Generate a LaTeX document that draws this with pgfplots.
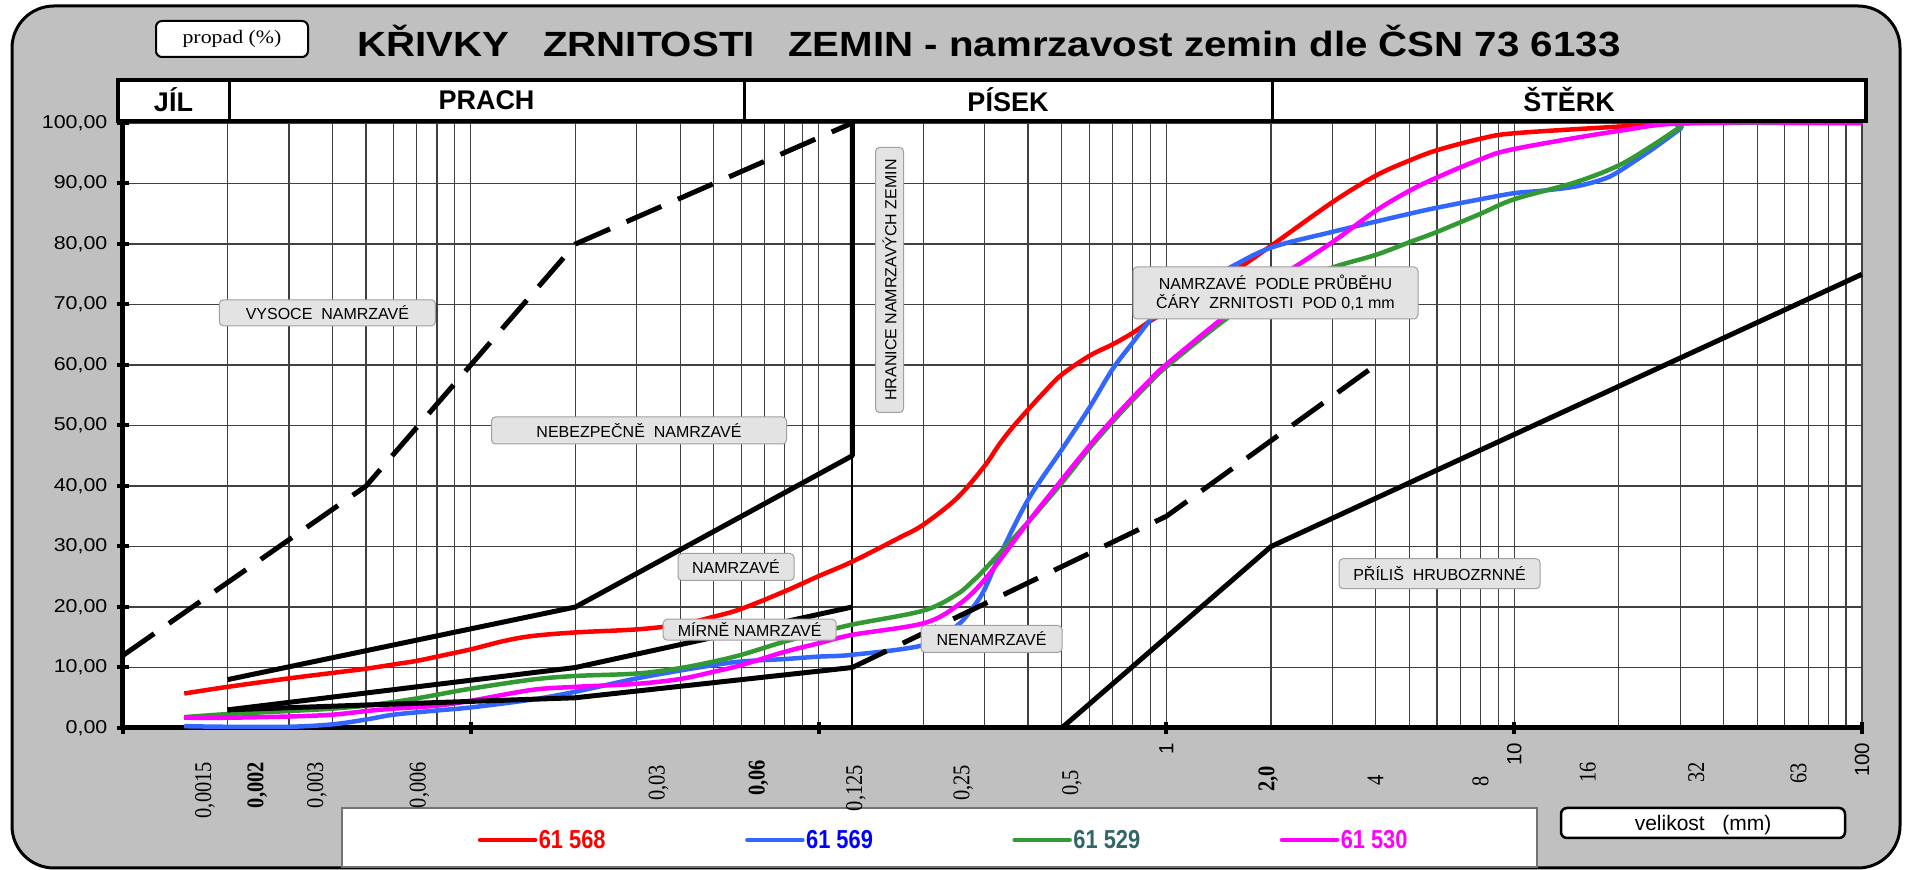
\documentclass[border=0pt]{standalone}
\usepackage{pgfplots}
\pgfplotsset{compat=1.18}
\usepackage{fontspec}
\setmainfont{Liberation Sans}
\newfontfamily\wsans[FakeStretch=1.15]{Liberation Sans}
\newfontfamily\csans[FakeStretch=0.84]{Liberation Sans}
\newfontfamily\cserif[FakeStretch=0.85]{Liberation Serif}
\newfontfamily\wserif[FakeStretch=1.15]{Liberation Serif}
\definecolor{bggray}{HTML}{C0C0C0}
\definecolor{boxgray}{HTML}{E3E3E3}
\definecolor{boxedge}{HTML}{A0A0A0}
\definecolor{cred}{HTML}{FF0000}
\definecolor{cblue}{HTML}{3366FF}
\definecolor{cgreen}{HTML}{339933}
\definecolor{cmag}{HTML}{FF00FF}
\definecolor{tblue}{HTML}{0000FF}
\definecolor{tteal}{HTML}{336666}
\begin{document}
\begin{tikzpicture}[x=1pt,y=1pt,
  lbl/.style={draw=boxedge, fill=boxgray, rounded corners=4pt, line width=1pt, inner sep=0pt, align=center, font=\fontsize{16}{19}\selectfont},
  xl/.style={rotate=90, anchor=east, inner sep=0pt, font=\cserif\fontsize{24}{24}\selectfont}]
\useasboundingbox (0,0) rectangle (1912,870);
\draw[line width=3pt, fill=bggray, rounded corners=42pt] (12,2) rectangle (1900,864);
% legend frame
\draw[line width=1.5pt, draw=black!55, fill=white] (342,3) rectangle (1537,62);
% size box
\draw[line width=2.5pt, fill=white, rounded corners=6pt] (1561,32) rectangle (1845,62);
\node[font=\fontsize{21}{21}\selectfont] at (1703,45) {velikost\ \ \ (mm)};
% propad box
\draw[line width=2pt, fill=white, rounded corners=6pt] (156,813) rectangle (308,849);
\node[font=\wserif\fontsize{19}{19}\selectfont] at (232,831) {propad (\%)};
% title
\node[anchor=base, font=\wsans\bfseries\fontsize{35}{35}\selectfont] at (989,813) {KŘIVKY\ \ \ ZRNITOSTI\ \ \ ZEMIN - namrzavost zemin dle ČSN 73 6133};

\begin{axis}[
  at={(123pt,142pt)}, anchor=south west,
  scale only axis, width=1739pt, height=605pt,
  xmode=log, xmin=0.001, xmax=100, ymin=0, ymax=100,
  clip=false,
  axis x line*=bottom, axis y line*=left,
  axis line style={line width=5pt, black},
  axis background/.style={fill=white},
  xtick={0.001,0.01,0.1,1,10,100},
  xticklabels={,,,1,10,100},
  minor xtick={0.002,0.003,0.004,0.005,0.006,0.007,0.008,0.009,0.02,0.03,0.04,0.05,0.06,0.07,0.08,0.09,0.2,0.3,0.4,0.5,0.6,0.7,0.8,0.9,2,3,4,5,6,7,8,9,20,30,40,50,60,70,80,90},
  extra x ticks={0.125}, extra x tick labels={},
  extra x tick style={major tick length=0pt, major grid style={black, line width=2.2pt}},
  ytick={0,10,...,100},
  yticklabels={{0,00},{10,00},{20,00},{30,00},{40,00},{50,00},{60,00},{70,00},{80,00},{90,00},{100,00}},
  grid=both,
  major grid style={black!75, line width=1.2pt},
  minor grid style={black!75, line width=1.2pt},
  tick align=center,
  major tick length=13pt, minor tick length=0pt,
  tick style={black, line width=4pt},
  yticklabel style={anchor=east, inner sep=0pt, xshift=-9pt, font=\wsans\fontsize{18.6}{18.6}\selectfont},
  xticklabel style={yshift=-8pt, rotate=90, anchor=east, inner sep=0pt, font=\fontsize{20.5}{20.5}\selectfont},
  legend style={draw=none, fill=none, at={(0.4718,-0.1851)}, anchor=center, legend columns=4,
    font=\csans\bfseries\fontsize{26}{26}\selectfont, nodes={inner sep=1.5pt},
    /tikz/every even column/.append style={column sep=138pt}},
  legend image code/.code={\draw[#1, line cap=round] (0pt,0pt) -- (55pt,0pt);},
]
\addplot[cred, line width=4.5pt, smooth, tension=0.55] coordinates {
(0.0015,5.7) (0.002,6.8) (0.003,8.2) (0.004,9.1) (0.005,9.8) (0.006,10.5) (0.007,11.1) (0.008,11.8) (0.01,13.0) (0.0125,14.4) (0.015,15.2) (0.02,15.8) (0.03,16.3) (0.04,17.1) (0.05,18.4) (0.06,19.7) (0.08,22.6) (0.1,25.1) (0.125,27.5) (0.17,31.4) (0.2,33.6) (0.25,38.0) (0.3,43.3) (0.33,46.8) (0.36,49.6) (0.4,52.6) (0.45,55.8) (0.5,58.4) (0.6,61.5) (0.7,63.4) (0.8,65.3) (0.9,67.3) (1,68.8) (1.5,74.8) (2,79.7) (3,86.9) (4,91.3) (5,93.8) (6,95.5) (8,97.4) (10,98.3) (20,99.4) (32,100) (100,100)};
\addlegendentry{\textcolor{cred}{61 568}}
\addplot[cblue, line width=4.5pt, smooth, tension=0.55] coordinates {
(0.0015,0.3) (0.002,0.2) (0.003,0.2) (0.004,0.6) (0.005,1.4) (0.006,2.2) (0.008,2.9) (0.01,3.4) (0.015,4.7) (0.02,6.0) (0.03,8.2) (0.04,9.5) (0.05,10.4) (0.06,11.0) (0.08,11.4) (0.1,11.8) (0.125,12.1) (0.2,13.7) (0.25,16.9) (0.28,20.2) (0.3,22.9) (0.33,28.2) (0.4,37.7) (0.5,46) (0.6,52.9) (0.7,59.3) (0.8,63.7) (0.9,67.5) (1,70.4) (1.5,75.9) (2,79.4) (3,82.0) (4,83.7) (5,85) (6,86) (8,87.4) (10,88.4) (12,88.8) (15,89.5) (18,90.7) (20,92) (25,95.7) (30,99) (32,100) (100,100)};
\addlegendentry{\textcolor{tblue}{61 569}}
\addplot[cgreen, line width=4.5pt, smooth, tension=0.55] coordinates {
(0.0015,1.8) (0.002,2.3) (0.003,2.8) (0.004,3.2) (0.005,3.7) (0.006,4.3) (0.007,4.9) (0.008,5.5) (0.01,6.5) (0.015,8.0) (0.02,8.6) (0.03,9.0) (0.04,9.9) (0.05,11.0) (0.06,12.1) (0.08,14.3) (0.1,15.7) (0.125,17.1) (0.2,19.4) (0.25,22.1) (0.28,24.5) (0.3,26.2) (0.4,34.0) (0.5,40.5) (0.6,46.2) (0.7,50.6) (0.8,54.2) (0.9,57.2) (1,59.7) (1.5,67.8) (2,72.3) (3,76.1) (4,78.2) (5,80.3) (6,82) (8,85) (10,87.4) (15,90.2) (20,93) (25,96.3) (30,99.3) (32,100) (100,100)};
\addlegendentry{\textcolor{tteal}{61 529}}
\addplot[cmag, line width=4.5pt, smooth, tension=0.55] coordinates {
(0.0015,1.7) (0.002,1.7) (0.003,1.9) (0.004,2.2) (0.005,2.8) (0.006,3.2) (0.008,3.7) (0.01,4.5) (0.015,6.3) (0.02,6.8) (0.03,7.3) (0.04,8.1) (0.05,9.3) (0.06,10.4) (0.08,12.6) (0.1,14.0) (0.125,15.4) (0.2,17.3) (0.25,20.2) (0.3,24.5) (0.4,34.0) (0.5,41) (0.6,46.6) (0.7,51) (0.8,54.6) (0.9,57.6) (1,60.1) (1.5,68.4) (2,73.6) (3,80.3) (4,85.5) (5,88.8) (6,91) (8,94) (10,95.7) (20,98.7) (32,100) (100,100)};
\addlegendentry{\textcolor{cmag}{61 530}}
% zone boundaries
\addplot[forget plot, black, line width=5pt, dash pattern=on 38pt off 18pt] coordinates {(0.001,12) (0.005,40) (0.02,80) (0.125,100)};
\addplot[forget plot, black, line width=5pt, line join=round] coordinates {(0.002,8) (0.02,20) (0.125,45) (0.125,100)};
\addplot[forget plot, black, line width=5pt, line join=round] coordinates {(0.002,3) (0.02,10) (0.125,20)};
\addplot[forget plot, black, line width=5pt, line join=round] coordinates {(0.002,3) (0.02,5) (0.125,10)};
\addplot[forget plot, black, line width=5pt, dash pattern=on 38pt off 18pt] coordinates {(0.125,10) (1,35) (4,60)};
\addplot[forget plot, black, line width=5pt, line join=round] coordinates {(0.5,0) (2,30) (100,75)};
\end{axis}

% header band
\draw[line width=3.5pt, fill=white] (118,749) rectangle (1866,790);
\draw[line width=3pt] (229,749) -- (229,790);
\draw[line width=3pt] (744,749) -- (744,790);
\draw[line width=3pt] (1272,749) -- (1272,790);
\begin{scope}[every node/.style={font=\bfseries\fontsize{27}{27}\selectfont}]
\node at (173.5,770) {JÍL};
\node at (486.5,770) {PRACH};
\node at (1008,770) {PÍSEK};
\node at (1569,770) {ŠTĚRK};
\end{scope}

% region labels
\node[lbl, minimum width=216pt, minimum height=26pt] at (327.4,557.2) {VYSOCE\ \ NAMRZAVÉ};
\node[lbl, minimum width=295pt, minimum height=27pt] at (639,439.5) {NEBEZPEČNĚ\ \ NAMRZAVÉ};
\node[lbl, minimum width=116pt, minimum height=27pt] at (736,303) {NAMRZAVÉ};
\node[lbl, minimum width=173pt, minimum height=21pt] at (749.7,240.3) {MÍRNĚ NAMRZAVÉ};
\node[lbl, minimum width=141pt, minimum height=27pt] at (991.5,231) {NENAMRZAVÉ};
\node[lbl, rotate=90, minimum width=265pt, minimum height=28pt] at (889.5,590) {HRANICE NAMRZAVÝCH ZEMIN};
\node[lbl, minimum width=285pt, minimum height=52pt] at (1275.5,577) {NAMRZAVÉ\ \ PODLE PRŮBĚHU\\ČÁRY\ \ ZRNITOSTI\ \ POD 0,1 mm};
\node[lbl, minimum width=201pt, minimum height=30pt] at (1439.5,296.3) {PŘÍLIŠ\ \ HRUBOZRNNÉ};

% manual size labels
\node[xl] at (204.9,108) {0,0015};
\node[xl, font=\cserif\bfseries\fontsize{24}{24}\selectfont] at (257.3,108) {0,002};
\node[xl] at (317,108) {0,003};
\node[xl] at (419.5,108) {0,006};
\node[xl] at (658.5,105) {0,03};
\node[xl, font=\cserif\bfseries\fontsize{24}{24}\selectfont] at (758.5,110) {0,06};
\node[xl] at (856,105) {0,125};
\node[xl] at (963.3,105) {0,25};
\node[xl] at (1071.9,100) {0,5};
\node[xl, font=\cserif\bfseries\fontsize{24}{24}\selectfont] at (1268.2,104) {2,0};
\node[xl] at (1375.5,95) {4};
\node[xl] at (1480.4,94) {8};
\node[xl] at (1587.7,108) {16};
\node[xl] at (1696.2,108) {32};
\node[xl] at (1798.6,107) {63};
\end{tikzpicture}
\end{document}
